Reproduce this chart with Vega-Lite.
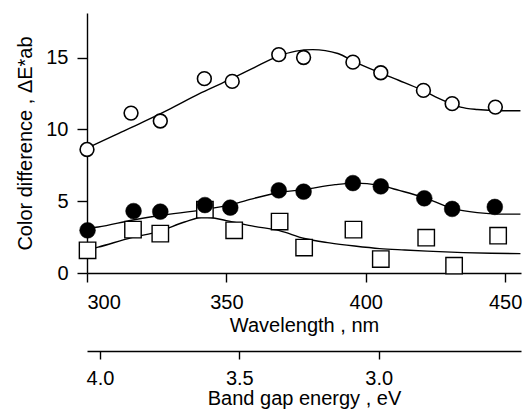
{
  "$schema": "https://vega.github.io/schema/vega-lite/v6.json",
  "width": 434,
  "height": 260,
  "autosize": "none",
  "padding": {"left": 87, "top": 13, "right": 2, "bottom": 140},
  "background": "white",
  "config": {
    "view": {"stroke": null},
    "axis": {
      "grid": false,
      "domainColor": "black",
      "domainWidth": 1.4,
      "tickColor": "black",
      "tickWidth": 1.4,
      "labelColor": "black",
      "titleColor": "black",
      "labelFont": "Liberation Sans",
      "titleFont": "Liberation Sans",
      "labelFontSize": 20,
      "titleFontSize": 20,
      "titleFontWeight": "normal"
    }
  },
  "datasets": {
    "curves": [
      {"sample": "open circle", "wavelength": 300, "dE": 8.7},
      {"sample": "open circle", "wavelength": 310, "dE": 9.6},
      {"sample": "open circle", "wavelength": 320, "dE": 10.5},
      {"sample": "open circle", "wavelength": 330, "dE": 11.45},
      {"sample": "open circle", "wavelength": 340, "dE": 12.45},
      {"sample": "open circle", "wavelength": 350, "dE": 13.35},
      {"sample": "open circle", "wavelength": 360, "dE": 14.3},
      {"sample": "open circle", "wavelength": 368, "dE": 15.05},
      {"sample": "open circle", "wavelength": 375, "dE": 15.45},
      {"sample": "open circle", "wavelength": 381, "dE": 15.55},
      {"sample": "open circle", "wavelength": 390, "dE": 15.28},
      {"sample": "open circle", "wavelength": 396, "dE": 14.7},
      {"sample": "open circle", "wavelength": 405, "dE": 13.95},
      {"sample": "open circle", "wavelength": 412, "dE": 13.4},
      {"sample": "open circle", "wavelength": 420, "dE": 12.75},
      {"sample": "open circle", "wavelength": 428, "dE": 12.0},
      {"sample": "open circle", "wavelength": 434, "dE": 11.55},
      {"sample": "open circle", "wavelength": 440, "dE": 11.38},
      {"sample": "open circle", "wavelength": 448, "dE": 11.3},
      {"sample": "open circle", "wavelength": 455.5, "dE": 11.3},
      {"sample": "filled circle", "wavelength": 300, "dE": 3.1},
      {"sample": "filled circle", "wavelength": 304, "dE": 3.2},
      {"sample": "filled circle", "wavelength": 316, "dE": 3.67},
      {"sample": "filled circle", "wavelength": 326, "dE": 4.0},
      {"sample": "filled circle", "wavelength": 342, "dE": 4.41},
      {"sample": "filled circle", "wavelength": 352, "dE": 4.78},
      {"sample": "filled circle", "wavelength": 360, "dE": 5.2},
      {"sample": "filled circle", "wavelength": 369, "dE": 5.6},
      {"sample": "filled circle", "wavelength": 378, "dE": 5.82},
      {"sample": "filled circle", "wavelength": 389, "dE": 6.15},
      {"sample": "filled circle", "wavelength": 396, "dE": 6.26},
      {"sample": "filled circle", "wavelength": 405, "dE": 6.1},
      {"sample": "filled circle", "wavelength": 412, "dE": 5.75},
      {"sample": "filled circle", "wavelength": 421, "dE": 5.25},
      {"sample": "filled circle", "wavelength": 431, "dE": 4.5},
      {"sample": "filled circle", "wavelength": 440, "dE": 4.2},
      {"sample": "filled circle", "wavelength": 448, "dE": 4.1},
      {"sample": "filled circle", "wavelength": 455.5, "dE": 4.1},
      {"sample": "open square", "wavelength": 300, "dE": 1.6},
      {"sample": "open square", "wavelength": 304, "dE": 1.8},
      {"sample": "open square", "wavelength": 316, "dE": 2.46},
      {"sample": "open square", "wavelength": 326, "dE": 2.9},
      {"sample": "open square", "wavelength": 335, "dE": 3.55},
      {"sample": "open square", "wavelength": 342, "dE": 3.9},
      {"sample": "open square", "wavelength": 350, "dE": 3.65},
      {"sample": "open square", "wavelength": 360, "dE": 3.25},
      {"sample": "open square", "wavelength": 369, "dE": 2.95},
      {"sample": "open square", "wavelength": 378, "dE": 2.4},
      {"sample": "open square", "wavelength": 387, "dE": 2.1},
      {"sample": "open square", "wavelength": 396, "dE": 1.88},
      {"sample": "open square", "wavelength": 405, "dE": 1.7},
      {"sample": "open square", "wavelength": 414, "dE": 1.6},
      {"sample": "open square", "wavelength": 422, "dE": 1.52},
      {"sample": "open square", "wavelength": 435, "dE": 1.42},
      {"sample": "open square", "wavelength": 445, "dE": 1.37},
      {"sample": "open square", "wavelength": 455.5, "dE": 1.35}
    ],
    "points": [
      {"sample": "open circle", "wavelength": 300, "dE": 8.6},
      {"sample": "open circle", "wavelength": 315.8, "dE": 11.13},
      {"sample": "open circle", "wavelength": 326.3, "dE": 10.58},
      {"sample": "open circle", "wavelength": 342.1, "dE": 13.53},
      {"sample": "open circle", "wavelength": 352.1, "dE": 13.34},
      {"sample": "open circle", "wavelength": 368.8, "dE": 15.2},
      {"sample": "open circle", "wavelength": 377.7, "dE": 15.0},
      {"sample": "open circle", "wavelength": 395.4, "dE": 14.68},
      {"sample": "open circle", "wavelength": 405.4, "dE": 13.94},
      {"sample": "open circle", "wavelength": 420.7, "dE": 12.71},
      {"sample": "open circle", "wavelength": 431.0, "dE": 11.79},
      {"sample": "open circle", "wavelength": 446.5, "dE": 11.55},
      {"sample": "filled circle", "wavelength": 300.2, "dE": 2.97},
      {"sample": "filled circle", "wavelength": 316.7, "dE": 4.31},
      {"sample": "filled circle", "wavelength": 326.3, "dE": 4.27},
      {"sample": "filled circle", "wavelength": 342.3, "dE": 4.73},
      {"sample": "filled circle", "wavelength": 351.4, "dE": 4.55},
      {"sample": "filled circle", "wavelength": 368.8, "dE": 5.75},
      {"sample": "filled circle", "wavelength": 377.7, "dE": 5.66},
      {"sample": "filled circle", "wavelength": 395.4, "dE": 6.26},
      {"sample": "filled circle", "wavelength": 405.4, "dE": 6.03},
      {"sample": "filled circle", "wavelength": 421.0, "dE": 5.2},
      {"sample": "filled circle", "wavelength": 431.0, "dE": 4.46},
      {"sample": "filled circle", "wavelength": 446.3, "dE": 4.6},
      {"sample": "open square", "wavelength": 300.2, "dE": 1.58},
      {"sample": "open square", "wavelength": 316.5, "dE": 3.02},
      {"sample": "open square", "wavelength": 326.3, "dE": 2.74},
      {"sample": "open square", "wavelength": 342.3, "dE": 4.41},
      {"sample": "open square", "wavelength": 352.8, "dE": 2.97},
      {"sample": "open square", "wavelength": 369.1, "dE": 3.58},
      {"sample": "open square", "wavelength": 377.9, "dE": 1.77},
      {"sample": "open square", "wavelength": 395.6, "dE": 3.02},
      {"sample": "open square", "wavelength": 405.4, "dE": 0.97},
      {"sample": "open square", "wavelength": 421.7, "dE": 2.46},
      {"sample": "open square", "wavelength": 431.7, "dE": 0.51},
      {"sample": "open square", "wavelength": 447.5, "dE": 2.6}
    ],
    "bandgap": [
      {"energy": 4.0},
      {"energy": 3.5},
      {"energy": 3.0}
    ]
  },
  "layer": [
    {
      "encoding": {
        "x": {
          "field": "wavelength",
          "type": "quantitative",
          "scale": {"domain": [300, 455.7], "nice": false, "zero": false},
          "axis": {
            "title": "Wavelength , nm",
            "values": [300, 350, 400, 450],
            "tickSize": 9,
            "labelPadding": 10,
            "titlePadding": 3
          }
        },
        "y": {
          "field": "dE",
          "type": "quantitative",
          "scale": {"domain": [0, 18.1], "nice": false, "zero": false},
          "axis": {
            "title": "Color difference , ΔE*ab",
            "values": [0, 5, 10, 15],
            "tickSize": 10,
            "labelPadding": 9,
            "titlePadding": 10
          }
        }
      },
      "layer": [
        {
          "data": {"name": "curves"},
          "mark": {"type": "line", "color": "black", "strokeWidth": 1.4, "interpolate": "monotone"},
          "encoding": {"detail": {"field": "sample"}}
        },
        {
          "data": {"name": "points"},
          "transform": [{"filter": "datum.sample === 'open square'"}],
          "mark": {"type": "point", "shape": "square", "size": 270, "filled": true, "fill": "white", "stroke": "black", "strokeWidth": 1.4, "opacity": 1}
        },
        {
          "data": {"name": "points"},
          "transform": [{"filter": "datum.sample === 'open circle'"}],
          "mark": {"type": "point", "shape": "circle", "size": 190, "filled": true, "fill": "white", "stroke": "black", "strokeWidth": 1.6, "opacity": 1}
        },
        {
          "data": {"name": "points"},
          "transform": [{"filter": "datum.sample === 'filled circle'"}],
          "mark": {"type": "point", "shape": "circle", "size": 250, "filled": true, "fill": "black", "stroke": "black", "strokeWidth": 0.5, "opacity": 1}
        }
      ]
    },
    {
      "data": {"name": "bandgap"},
      "mark": {"type": "point", "opacity": 0},
      "encoding": {
        "x": {
          "field": "energy",
          "type": "quantitative",
          "scale": {"domain": [2.4894, 4.0466], "reverse": true, "nice": false, "zero": false},
          "axis": {
            "orient": "bottom",
            "offset": 78,
            "title": "Band gap energy , eV",
            "values": [4.0, 3.5, 3.0],
            "format": ".1f",
            "tickSize": 8,
            "labelPadding": 9,
            "titlePadding": 0
          }
        }
      }
    }
  ],
  "resolve": {"scale": {"x": "independent"}, "axis": {"x": "independent"}}
}
